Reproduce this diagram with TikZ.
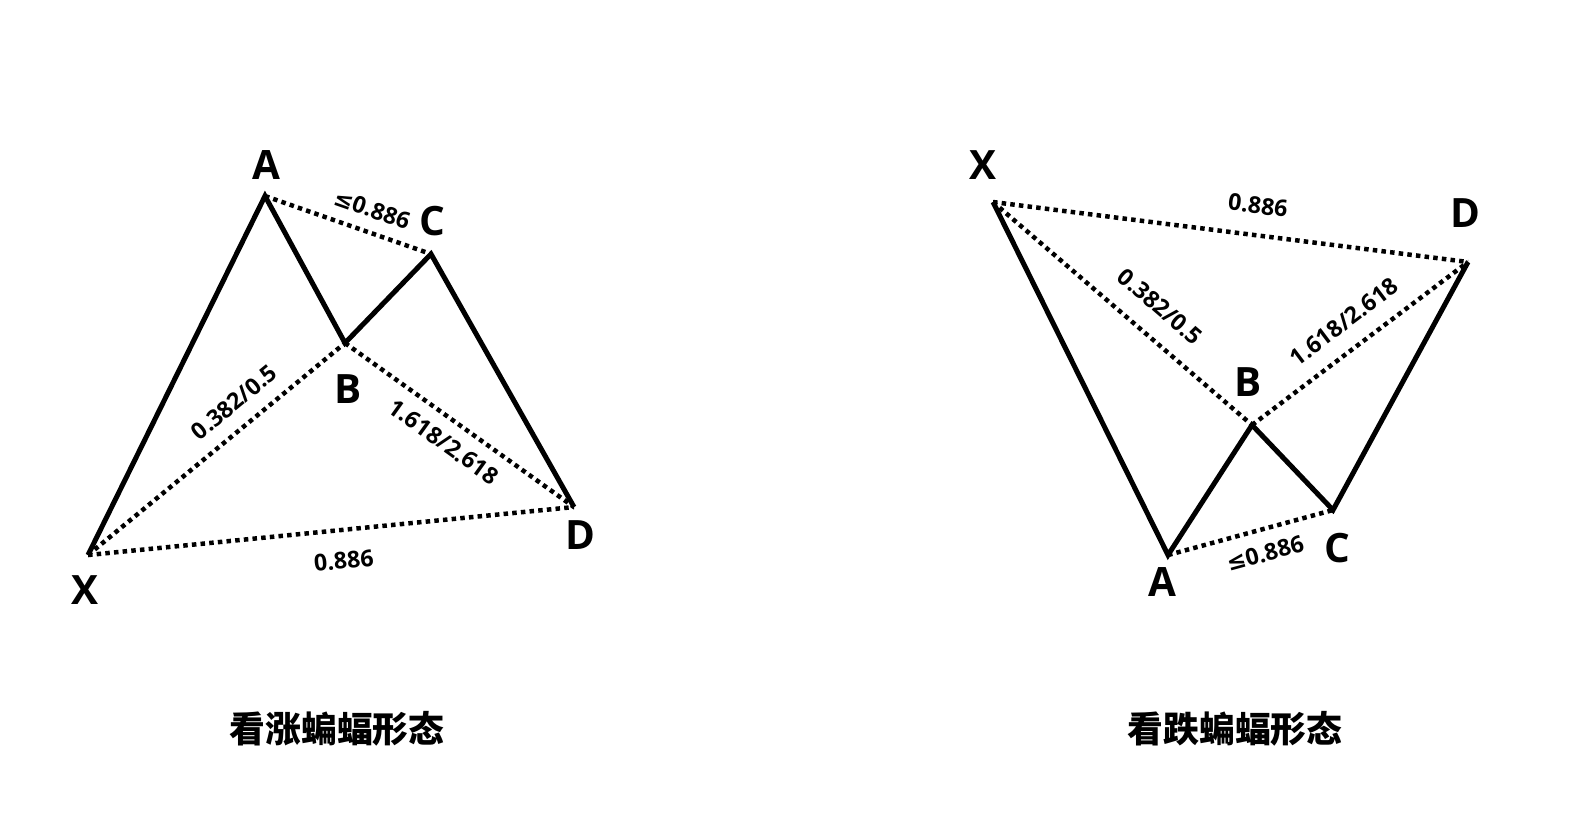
\documentclass[tikz,border=0pt]{standalone}
\usepackage{fontspec}
\setmainfont{Open Sans}
\newfontfamily\cjk{Noto Sans CJK SC Black}
\newfontfamily\symfont{DejaVu Sans}
\usetikzlibrary{positioning}

\begin{document}
\begin{tikzpicture}[
  x=0.1mm,y=-0.1mm,
  leg/.style={line width=0.5mm,line join=miter},
  ratio/.style={line width=0.45mm,dash pattern=on 0.45mm off 0.42mm},
  pt/.style={font=\bfseries\fontsize{11.5}{13}\selectfont,inner sep=0},
  val/.style={font=\bfseries\fontsize{6.6}{8}\selectfont,inner sep=0,sloped},
  ttl/.style={font=\cjk\fontsize{10.2}{12}\selectfont,inner sep=0}
]
  \useasboundingbox (0,0) rectangle (1575,832);

  % bullish bat
  \coordinate (lX) at (88,555);
  \coordinate (lA) at (265,196);
  \coordinate (lB) at (345,343);
  \coordinate (lC) at (431,254);
  \coordinate (lD) at (574,507);
  \draw[leg] (lX) -- (lA) -- (lB) -- (lC) -- (lD);
  \draw[ratio] (lA) -- node[val,pos=0.6,above=1.2mm] (lac) {{\symfont ≤}0.886} (lC);
  \draw[ratio] (lX) -- node[val,pos=0.63,above=1.4mm] (lxb) {0.382/0.5} (lB);
  \draw[ratio] (lB) -- node[val,pos=0.49,below=1.2mm] (lbd) {1.618/2.618} (lD);
  \draw[ratio] (lX) -- node[val,pos=0.52,below=2mm] (lxd) {0.886} (lD);
  \node[pt] (tlA) at (266,165) {A};
  \node[pt] (tlB) at (348,389) {B};
  \node[pt] (tlC) at (432,221) {C};
  \node[pt] (tlD) at (580,535) {D};
  \node[pt] (tlX) at (85,590) {X};
  \node[ttl] (bull) at (337,729) {看涨蝙蝠形态};

  % bearish bat
  \coordinate (rX) at (993,202);
  \coordinate (rA) at (1168,555);
  \coordinate (rB) at (1252,425);
  \coordinate (rC) at (1333,510);
  \coordinate (rD) at (1468,262);
  \draw[leg] (rX) -- (rA) -- (rB) -- (rC) -- (rD);
  \draw[ratio] (rX) -- node[val,pos=0.55,above=1.9mm] (rxd) {0.886} (rD);
  \draw[ratio] (rX) -- node[val,pos=0.57,above=1.9mm] (rxb) {0.382/0.5} (rB);
  \draw[ratio] (rB) -- node[val,pos=0.5,above=1.6mm] (rbd) {1.618/2.618} (rD);
  \draw[ratio] (rA) -- node[val,pos=0.55,below=1.3mm] (rac) {{\symfont ≤}0.886} (rC);
  \node[pt] (trA) at (1162,582) {A};
  \node[pt] (trB) at (1248,382) {B};
  \node[pt] (trC) at (1337,548) {C};
  \node[pt] (trD) at (1465,213) {D};
  \node[pt] (trX) at (983,165) {X};
  \node[ttl] (bear) at (1235,729) {看跌蝙蝠形态};
\end{tikzpicture}
\end{document}
